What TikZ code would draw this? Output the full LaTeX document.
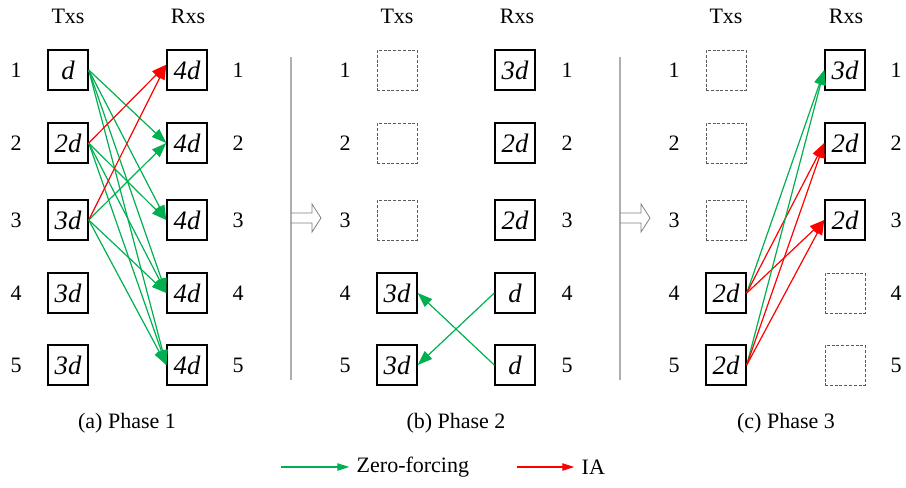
\documentclass[tikz,border=0pt]{standalone}
\usepackage{fontspec}
\setmainfont{Liberation Serif}
\usetikzlibrary{arrows.meta}
\definecolor{zfgreen}{RGB}{0,176,80}
\definecolor{iared}{RGB}{255,0,0}
\definecolor{sepgray}{RGB}{175,175,175}
\definecolor{idlegray}{RGB}{90,90,90}
\tikzset{
  stream/.style={draw, line width=1.1pt, minimum size=30pt, inner sep=0pt,
    font=\fontsize{20}{22}\selectfont\itshape},
  idle/.style={draw=idlegray, dash pattern=on 2.2pt off 1.4pt, line width=0.6pt,
    minimum size=30pt, inner sep=0pt},
  lbl/.style={font=\fontsize{16.5}{19}\selectfont},
  zf/.style={draw=zfgreen, line width=0.9pt, -{Triangle[length=11pt,width=8pt]}},
  ia/.style={draw=iared, line width=0.9pt, -{Triangle[length=11pt,width=8pt]}},
  sep/.style={draw=sepgray, line width=1.3pt},
  nextarrow/.style={draw=gray, line width=0.6pt, line join=miter}
}
\begin{document}
\begin{tikzpicture}[x=0.75pt, y=-0.75pt]
  \useasboundingbox (0,0) rectangle (906,487);
  % headers and row numbers of the three phases
  \foreach \p/\ox in {a/0, b/329, c/658}{
    \node[lbl] (\p-htx) at (68+\ox,16) {Txs};
    \node[lbl] (\p-hrx) at (188+\ox,16) {Rxs};
    \foreach \i/\y in {1/70, 2/143, 3/220, 4/293, 5/365}{
      \node[lbl] (\p-ltx\i) at (16+\ox,\y) {\i};
      \node[lbl] (\p-lrx\i) at (238+\ox,\y) {\i};
    }
  }
  % phase 1
  \foreach \i/\y/\t in {1/70/d, 2/143/2d, 3/220/3d, 4/293/3d, 5/365/3d}
    \node[stream] (a-tx\i) at (68,\y) {\t};
  \foreach \i/\y in {1/70, 2/143, 3/220, 4/293, 5/365}
    \node[stream] (a-rx\i) at (187,\y) {4d};
  \foreach \s/\e in {1/2, 1/3, 1/4, 1/5, 2/3, 2/4, 2/5, 3/2, 3/4, 3/5}
    \draw[zf] (a-tx\s.east) -- (a-rx\e.west);
  \foreach \s in {2,3}
    \draw[ia] (a-tx\s.east) -- ([yshift=4pt]a-rx1.west);
  % phase 2
  \foreach \i/\y in {1/70, 2/143, 3/220}
    \node[idle] (b-tx\i) at (397,\y) {};
  \foreach \i/\y in {4/293, 5/365}
    \node[stream] (b-tx\i) at (397,\y) {3d};
  \foreach \i/\y/\t in {1/70/3d, 2/143/2d, 3/220/2d, 4/293/d, 5/365/d}
    \node[stream] (b-rx\i) at (515,\y) {\t};
  \draw[zf] (b-rx4.west) -- (b-tx5.east);
  \draw[zf] (b-rx5.west) -- (b-tx4.east);
  % phase 3
  \foreach \i/\y in {1/70, 2/143, 3/220}
    \node[idle] (c-tx\i) at (726,\y) {};
  \foreach \i/\y in {4/293, 5/365}
    \node[stream] (c-tx\i) at (726,\y) {2d};
  \foreach \i/\y/\t in {1/70/3d, 2/143/2d, 3/220/2d}
    \node[stream] (c-rx\i) at (845,\y) {\t};
  \foreach \i/\y in {4/293, 5/365}
    \node[idle] (c-rx\i) at (845,\y) {};
  \foreach \s in {4,5}{
    \draw[zf] (c-tx\s.east) -- (c-rx1.west);
    \draw[ia] (c-tx\s.east) -- (c-rx2.west);
    \draw[ia] (c-tx\s.east) -- (c-rx3.west);
  }
  % separators with hollow arrows
  \foreach \sx in {291, 620}{
    \draw[sep] (\sx,57) -- (\sx,380);
    \draw[nextarrow] (\sx,213) -- (\sx+21,213) -- (\sx+21,204) -- (\sx+30,218)
      -- (\sx+21,232) -- (\sx+21,223) -- (\sx,223);
  }
  % captions
  \node[lbl] (capa) at (127,423) {(a) Phase 1};
  \node[lbl] (capb) at (456,423) {(b) Phase 2};
  \node[lbl] (capc) at (786,423) {(c) Phase 3};
  % legend
  \coordinate (zfs) at (281,467);
  \node[lbl, anchor=west] (zftext) at (352,467) {Zero-forcing};
  \coordinate (ias) at (517,467);
  \node[lbl, anchor=west] (iatext) at (577,467) {IA};
  \draw[zf, -{Triangle[length=9pt,width=5.5pt]}, shorten >=2pt] (zfs) -- (zftext.west);
  \draw[ia, -{Triangle[length=9pt,width=5.5pt]}, shorten >=2pt] (ias) -- (iatext.west);
\end{tikzpicture}
\end{document}
